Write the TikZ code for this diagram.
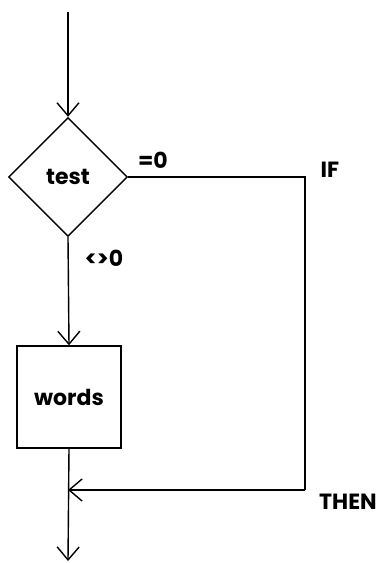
\documentclass[tikz,border=0pt]{standalone}
\usepackage{fontspec}
\setmainfont{Poppins}
\usetikzlibrary{shapes.geometric,arrows.meta}
\begin{document}
\begin{tikzpicture}[x=1pt,y=-1pt]
\tikzstyle{every node}+=[inner sep=0pt,font=\fontsize{22}{26}\selectfont\bfseries]
\tikzstyle{decision}=[draw,diamond,aspect=1,minimum size=119pt,line width=1.4pt]
\tikzstyle{block}=[draw,rectangle,minimum width=104pt,minimum height=102pt,line width=1.4pt]
\tikzstyle{flow}=[line width=1.4pt,-{Straight Barb[length=13pt,width=22pt,line width=1.4pt]}]
\useasboundingbox (0,0) rectangle (381,563);
\coordinate (start) at (68,12);
\node [decision] (test) at (68,177) {test};
\node [block] (words) at (69,397) {words};
\coordinate (ifcorner) at (305,177);
\coordinate (thencorner) at (305,490);
\coordinate (join) at (68,490);
\coordinate (stop) at (68,561);
\draw [flow] (start) -- (test.north);
\draw [flow] (test.south) -- (words.north);
\draw [line width=1.4pt] (test.east) -- (ifcorner) -- (thencorner);
\draw [flow] (thencorner) -- (join);
\draw [flow] (words.south) -- (stop);
\node (eqzero) at (153,160) {=0};
\node (iflabel) at (330,170) {IF};
\node (nezero) at (104,258) {<>0};
\node (thenlabel) at (348,502) {THEN};
\end{tikzpicture}
\end{document}
